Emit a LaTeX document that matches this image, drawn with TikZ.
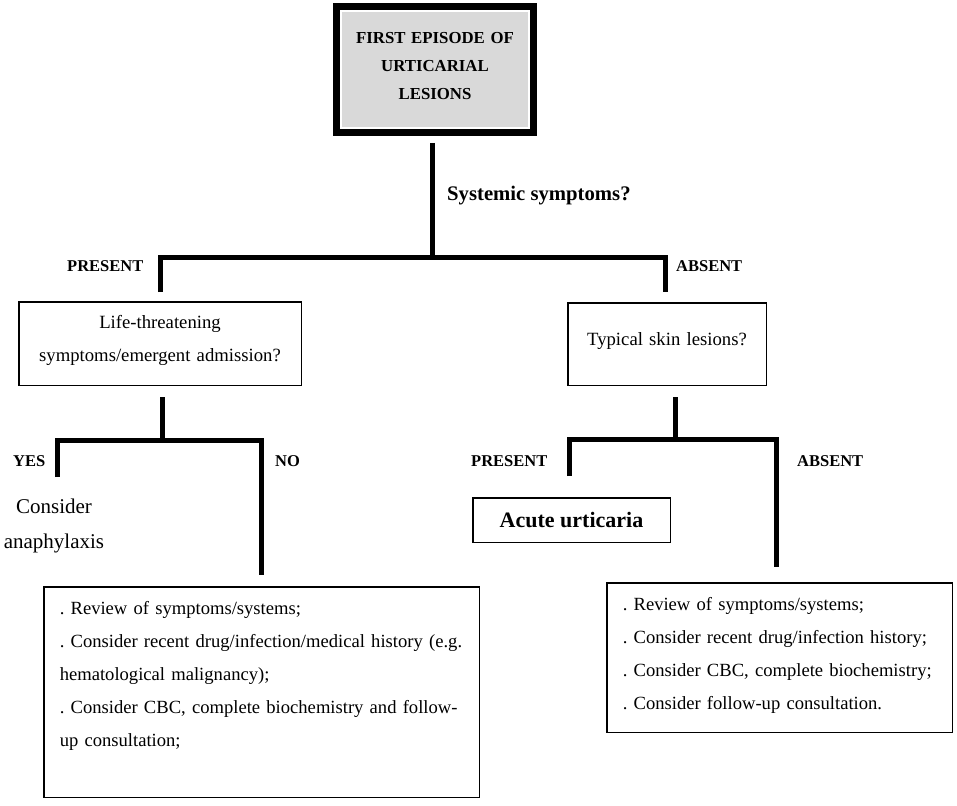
\documentclass[tikz,border=0pt]{standalone}
\usepackage{fontspec}
\setmainfont{Liberation Serif}
\definecolor{boxgray}{HTML}{D9D9D9}
\frenchspacing
\begin{document}
\begin{tikzpicture}[x=1pt,y=-1pt,
  conn/.style={line width=5pt},
  qbox/.style={draw, line width=1.5pt, align=center, inner xsep=4pt, inner ysep=8pt,
    font=\fontsize{18.7}{33}\selectfont},
  listbox/.style={draw, line width=1.5pt, align=left, inner xsep=16pt, inner ysep=8pt,
    text height=19.25pt, font=\fontsize{18.6}{33}\selectfont\frenchspacing},
  lbl/.style={font=\bfseries\fontsize{16.5}{18}\selectfont, inner sep=0pt, anchor=base west}]
\useasboundingbox (0,0) rectangle (957,805);

% top box
\node[draw, line width=7pt, fill=boxgray, anchor=north, inner xsep=6pt, inner ysep=8pt,
  text width=185pt, align=center, text height=29.5pt, text depth=80.5pt,
  font=\bfseries\fontsize{16.8}{28}\selectfont] (top) at (435,3)
  {FIRST EPISODE OF\\URTICARIAL\\LESIONS};
\draw[white, line width=1.2pt] ([xshift=8pt,yshift=-8pt]top.north west)
  rectangle ([xshift=-8pt,yshift=8pt]top.south east);

\node[lbl, font=\bfseries\fontsize{20.7}{24}\selectfont] (sys) at (447,200) {Systemic symptoms?};

% second level boxes
\node[qbox, anchor=north, text width=274.5pt, text height=18.25pt, text depth=49.25pt]
  (lt) at (160,301) {Life-threatening\\symptoms/emergent admission?};
\node[qbox, anchor=north, text width=190.5pt, text height=34.25pt, text depth=32.25pt]
  (rt) at (667,302) {Typical skin lesions?};

\node[lbl] (pres1) at (67,271) {PRESENT};
\node[lbl] (abs1) at (676,271) {ABSENT};

% third level
\node[lbl] (yes) at (13,466) {YES};
\node[lbl] (no) at (275,466) {NO};
\node[lbl] (pres2) at (471,466) {PRESENT};
\node[lbl] (abs2) at (797,466) {ABSENT};

\node[font=\fontsize{21}{35}\selectfont, align=center, inner sep=0pt] (ana) at (54,526)
  {Consider\\anaphylaxis};

\node[draw, line width=1.5pt, minimum width=197.5pt, minimum height=44.5pt,
  font=\bfseries\fontsize{22}{26}\selectfont] (acute) at (571.5,520) {Acute urticaria};

\node[listbox, anchor=north west, text width=403.5pt, text depth=175.25pt] (bl) at (43,586)
  {. Review of symptoms/systems;\\
   \mbox{. Consider recent drug/infection/medical history (e.g.}\\
   hematological malignancy);\\
   . Consider CBC, complete biochemistry and follow-\\
   up consultation;};
\node[listbox, anchor=north west, text width=313.5pt, text depth=114.25pt] (br) at (606,582)
  {. Review of symptoms/systems;\\
   . Consider recent drug/infection history;\\
   . Consider CBC, complete biochemistry;\\
   . Consider follow-up consultation.};

% connectors
\coordinate (a1) at ([xshift=-3pt,yshift=-7pt]top.south);
\coordinate (j1) at (432,257);
\coordinate (p1) at ([yshift=9pt]lt.north);
\coordinate (p2) at ([xshift=-2pt,yshift=10pt]rt.north);
\draw[conn] (a1) -- (j1);
\draw[conn] (p1) |- (j1) -| (p2);

\coordinate (b1) at ([xshift=2pt,yshift=-11pt]lt.south);
\coordinate (j2) at (162,440);
\coordinate (ye) at (57,477);
\coordinate (nd) at ([yshift=11pt]bl.north);
\draw[conn] (b1) -- (j2);
\draw[conn] (ye) |- (j2) -| (nd);

\coordinate (b2) at ([xshift=8pt,yshift=-11pt]rt.south);
\coordinate (j3) at (675,439);
\coordinate (pe) at ([xshift=-2.5pt,yshift=21pt]acute.north);
\coordinate (ab) at ([xshift=-3.5pt,yshift=15pt]br.north);
\draw[conn] (b2) -- (j3);
\draw[conn] (pe) |- (j3) -| (ab);
\end{tikzpicture}
\end{document}
